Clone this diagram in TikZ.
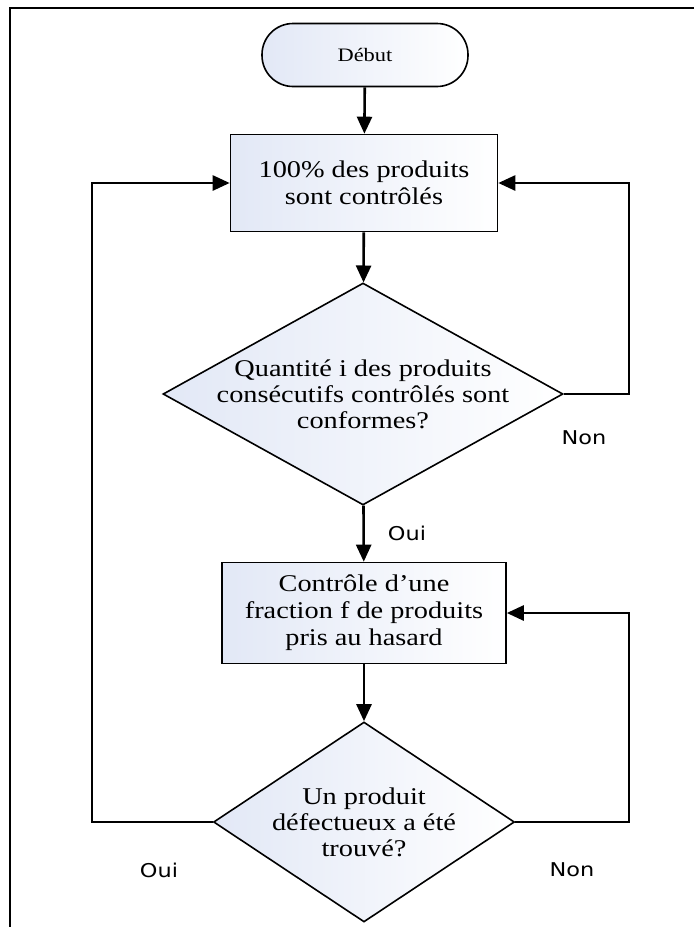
\documentclass[tikz,border=0pt]{standalone}
\usepackage{fontspec}
\setmainfont{Liberation Serif}[FakeStretch=1.18]
\newfontfamily\lblfont{DejaVu Sans}[FakeStretch=1.18]
\usetikzlibrary{shapes.geometric, arrows.meta}
\definecolor{shadeblue}{RGB}{226,232,246}
\tikzstyle{term}=[draw, line width=1.6pt, rounded corners=31pt, left color=shadeblue, right color=white, minimum width=206pt, minimum height=63pt, font=\fontsize{19}{22}\selectfont]
\tikzstyle{proc}=[draw, line width=1.6pt, left color=shadeblue, right color=white, align=center, font=\fontsize{24}{27}\selectfont]
\tikzstyle{deci}=[diamond, draw, line width=1.6pt, left color=shadeblue, right color=white, inner sep=0pt]
\tikzstyle{intext}=[align=center, font=\fontsize{24}{26}\selectfont]
\tikzstyle{lbl}=[font=\lblfont\fontsize{19}{21}\selectfont]
\tikzstyle{flow}=[line width=2.6pt, -{Triangle[length=17pt,width=15pt]}]
\tikzstyle{loop}=[line width=2.6pt]

\begin{document}
\begin{tikzpicture}[x=1pt, y=-1pt]
  \useasboundingbox (0,0) rectangle (694,927);
  \draw[loop] (694,8) -| (10,927);
  \node[term] (debut) at (365,55) {Début};
  \node[proc, minimum width=267pt, minimum height=97pt] (ctrl) at (364,183) {100\% des produits\\sont contrôlés};
  \node[deci, minimum width=400pt, minimum height=222pt,
    label={[intext]center:{Quantité i des produits\\consécutifs contrôlés sont\\conformes?}}] (test) at (363,394) {};
  \node[proc, minimum width=284pt, minimum height=101pt] (frac) at (364,613) {Contrôle d’une\\fraction f de produits\\pris au hasard};
  \node[deci, minimum width=301pt, minimum height=200pt,
    label={[intext]center:{Un produit\\défectueux a été\\trouvé?}}] (defaut) at (364,822) {};
  \coordinate (r1) at (629,394);
  \coordinate (r2) at (629,822);
  \coordinate (l2) at (92,822);
  \draw[flow] (debut) -- (ctrl);
  \draw[flow] (ctrl) -- (test);
  \draw[flow] (test) -- (frac);
  \draw[flow] (frac) -- (defaut);
  \draw[flow] (test.east) -- (r1) |- (ctrl.east);
  \draw[flow] (defaut.east) -- (r2) |- (frac.east);
  \draw[flow] (defaut.west) -- (l2) |- (ctrl.west);
  \node[lbl] (non1) at (584,438) {Non};
  \node[lbl] (oui1) at (407,533) {Oui};
  \node[lbl] (oui2) at (159,870) {Oui};
  \node[lbl] (non2) at (572,870) {Non};
\end{tikzpicture}
\end{document}
